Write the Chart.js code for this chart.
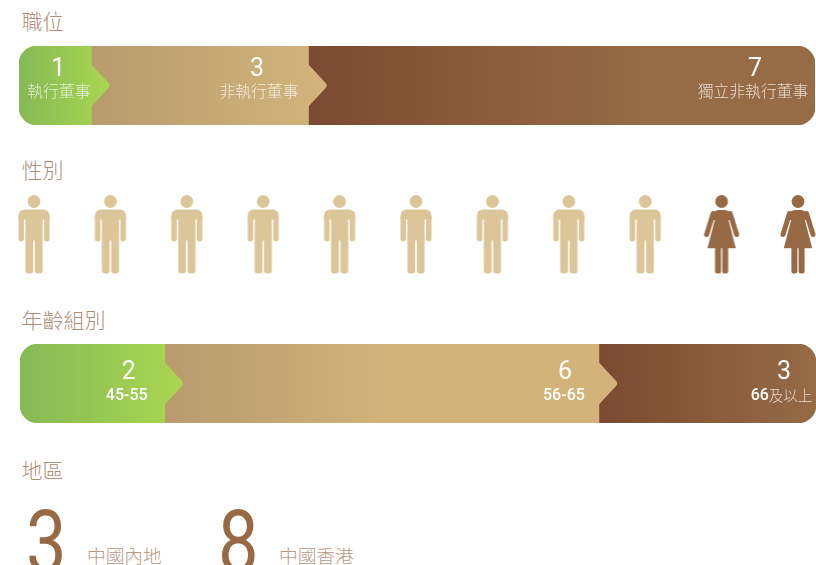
<!DOCTYPE html>
<html lang="zh-Hant">
<head>
    <meta charset="UTF-8">
    <script src="https://cdn.jsdelivr.net/npm/chart.js@4"></script>
    <title>董事會多元化</title>
    <style>
        html, body { margin: 0; height: 565px; overflow: hidden; background: #fff; }
        body { position: relative; font-family: "Noto Sans CJK TC", sans-serif; font-weight: 300; }
        canvas { position: absolute; }
        .title { position: absolute; left: 21.5px; font-size: 21px; line-height: 24px; color: #b08d76; }
        .big { position: absolute; top: 492px; font: 400 88px/100px Roboto, sans-serif; color: #976a45; transform: scaleX(0.82); transform-origin: left top; }
        .sub { position: absolute; top: 543px; font-size: 18.7px; line-height: 24px; color: #b9987f; }
    </style>
</head>
<body>
<div class="title" style="top: 8px;">職位</div>
<canvas id="position" width="796" height="79" style="left: 19px; top: 46px;"></canvas>
<div class="title" style="top: 157px;">性別</div>
<canvas id="gender" width="816" height="89" style="left: 0; top: 190px;"></canvas>
<div class="title" style="top: 307px;">年齡組別</div>
<canvas id="age" width="796" height="79" style="left: 20px; top: 344px;"></canvas>
<div class="title" style="top: 457px;">地區</div>
<div id="region"></div>

<script>
    const positionLabels = ['執行董事', '非執行董事', '獨立非執行董事'];
    const positionValues = [1, 3, 7];
    const ageLabels = ['45-55', '56-65', '66及以上'];
    const ageValues = [2, 6, 3];
    const genderCounts = [9, 2];
    const regionLabels = ['中國內地', '中國香港'];
    const regionValues = [3, 8];

    // green, tan, brown; each segment fades from its left colour to its right colour
    const segmentColors = [
        ['#85b956', '#aad650'],
        ['#b89b6e', '#d2b47b'],
        ['#7b4a31', '#976b46']
    ];
    const MALE_COLOR = '#dcc598';
    const FEMALE_COLOR = '#976a45';
    const TIP_DEPTH = 16.5;
    const TIP_HALF = 21;

    function sumTo(values, n) {
        return values.slice(0, n).reduce((a, b) => a + b, 0);
    }

    // span is how many pixels the fade runs before the colour goes flat
    function segmentFill(c, values, span) {
        const colors = segmentColors[c.datasetIndex];
        const scale = c.chart.scales.x;
        if (!scale || !c.chart.chartArea) return colors[0];
        const from = scale.getPixelForValue(sumTo(values, c.datasetIndex));
        const grad = c.chart.ctx.createLinearGradient(from, 0, from + span, 0);
        grad.addColorStop(0, colors[0]);
        grad.addColorStop(1, colors[1]);
        return grad;
    }

    // the pointed end a segment pushes into its right neighbour
    const arrowTips = {
        id: 'arrowTips',
        afterDatasetDraw(chart, args) {
            const last = chart.data.datasets.length - 1;
            if (args.index === last) return;
            const bar = args.meta.data[0];
            const ctx = chart.ctx;
            ctx.save();
            ctx.fillStyle = bar.options.backgroundColor;
            ctx.beginPath();
            ctx.moveTo(bar.x - 0.5, bar.y - TIP_HALF);
            ctx.lineTo(bar.x, bar.y - TIP_HALF);
            ctx.arcTo(bar.x + TIP_DEPTH + 3, bar.y, bar.x, bar.y + TIP_HALF, 4);
            ctx.lineTo(bar.x, bar.y + TIP_HALF);
            ctx.lineTo(bar.x - 0.5, bar.y + TIP_HALF);
            ctx.closePath();
            ctx.fill();
            ctx.restore();
        }
    };

    // number above, caption below, digits in a heavier latin face
    const segmentText = {
        id: 'segmentText',
        afterDatasetsDraw(chart, args, opts) {
            const ctx = chart.ctx;
            ctx.save();
            ctx.textBaseline = 'middle';
            chart.data.datasets.forEach((ds, i) => {
                const bar = chart.getDatasetMeta(i).data[0];
                const cx = bar.x + opts.offsets[i];
                ctx.textAlign = 'center';
                ctx.fillStyle = '#fff';
                ctx.font = '400 25px Roboto';
                ctx.fillText(ds.data[0], cx, bar.y + opts.numberY);

                const runs = ds.label.split(/(\d[\d-]*)/).filter(Boolean);
                const fontOf = r => /\d/.test(r) ? '500 16px Roboto' : `300 ${opts.captionSize}px "Noto Sans CJK TC"`;
                let total = 0;
                runs.forEach(r => { ctx.font = fontOf(r); total += ctx.measureText(r).width; });
                let x = cx + opts.captionShift[i] - total / 2;
                ctx.textAlign = 'left';
                runs.forEach(r => {
                    ctx.font = fontOf(r);
                    ctx.fillStyle = /\d/.test(r) ? '#fff' : 'rgba(255,255,255,0.75)';
                    ctx.fillText(r, x, bar.y + opts.captionY);
                    x += ctx.measureText(r).width;
                });
            });
            ctx.restore();
        }
    };

    function stackedBar(id, labels, values, spans, textOptions) {
        const last = values.length - 1;
        return new Chart(document.getElementById(id).getContext('2d'), {
            type: 'bar',
            data: {
                labels: [''],
                datasets: values.map((v, i) => ({
                    label: labels[i],
                    data: [v],
                    backgroundColor: c => segmentFill(c, values, spans[i]),
                    borderSkipped: false,
                    borderRadius: {
                        topLeft: i === 0 ? 18 : 0,
                        bottomLeft: i === 0 ? 18 : 0,
                        topRight: i === last ? 18 : 0,
                        bottomRight: i === last ? 18 : 0
                    },
                    barPercentage: 1,
                    categoryPercentage: 1
                }))
            },
            options: {
                indexAxis: 'y',
                responsive: false,
                animation: false,
                events: [],
                layout: { padding: 0 },
                scales: {
                    x: { display: false, stacked: true, min: 0, max: sumTo(values, values.length) },
                    y: { display: false, stacked: true }
                },
                plugins: {
                    legend: { display: false },
                    tooltip: { enabled: false },
                    segmentText: textOptions
                }
            },
            plugins: [arrowTips, segmentText]
        });
    }

    stackedBar('position', positionLabels, positionValues, [91, 235, 340], {
        offsets: [-33, -51.5, -60], captionShift: [0.5, 2, -2],
        numberY: -15.5, captionY: 5.5, captionSize: 15.8
    });
    stackedBar('age', ageLabels, ageValues, [162, 235, 217], {
        offsets: [-36, -34, -32], captionShift: [-2, -1, -2.5],
        numberY: -10.5, captionY: 12, captionSize: 14.5
    });

    // pictogram sprites, origin at the figure's horizontal centre
    function sprite(color, draw) {
        const c = document.createElement('canvas');
        c.width = 38;
        c.height = 89;
        const g = c.getContext('2d');
        g.fillStyle = color;
        g.strokeStyle = color;
        g.translate(19, 4.5);
        g.beginPath();
        g.arc(0, 7, 6.4, 0, Math.PI * 2);
        g.fill();
        draw(g);
        return c;
    }

    function box(g, x, y, w, h, r) {
        g.beginPath();
        g.roundRect(x, y, w, h, r);
        g.fill();
    }

    const maleIcon = sprite(MALE_COLOR, g => {
        box(g, -15.5, 15, 31, 10, [6, 6, 0, 0]);
        box(g, -15.5, 22, 5.4, 25, [0, 0, 2.7, 2.7]);
        box(g, 10.1, 22, 5.4, 25, [0, 0, 2.7, 2.7]);
        box(g, -8.6, 22, 17.2, 24, 0);
        box(g, -8.6, 44, 7.8, 35, [0, 0, 3, 3]);
        box(g, 0.8, 44, 7.8, 35, [0, 0, 3, 3]);
    });

    const femaleIcon = sprite(FEMALE_COLOR, g => {
        box(g, -9, 15.5, 18, 10, [6, 6, 0, 0]);
        g.beginPath();
        g.moveTo(-6.5, 24);
        g.lineTo(6.5, 24);
        g.lineTo(14.2, 53.8);
        g.lineTo(-14.2, 53.8);
        g.closePath();
        g.fill();
        g.lineWidth = 5;
        g.lineCap = 'round';
        g.beginPath();
        g.moveTo(-8.5, 19);
        g.lineTo(-15, 40);
        g.moveTo(8.5, 19);
        g.lineTo(15, 40);
        g.stroke();
        box(g, -6.6, 52, 6, 27, [0, 0, 2.5, 2.5]);
        box(g, 0.6, 52, 6, 27, [0, 0, 2.5, 2.5]);
    });

    const people = [];
    for (let i = 0; i < genderCounts[0] + genderCounts[1]; i++) {
        people.push({ x: i, y: 0 });
    }

    new Chart(document.getElementById('gender').getContext('2d'), {
        type: 'scatter',
        data: {
            datasets: [{
                data: people,
                clip: false,
                pointStyle: c => c.dataIndex < genderCounts[0] ? maleIcon : femaleIcon
            }]
        },
        options: {
            responsive: false,
            animation: false,
            events: [],
            layout: { padding: { left: 34, right: 18 } },
            scales: {
                x: { display: false, min: 0, max: people.length - 1 },
                y: { display: false, min: -1, max: 1 }
            },
            plugins: { legend: { display: false }, tooltip: { enabled: false } }
        }
    });

    const region = document.getElementById('region');
    regionValues.forEach((v, i) => {
        const big = document.createElement('div');
        big.className = 'big';
        big.style.left = (26 + i * 192) + 'px';
        big.textContent = v;
        const sub = document.createElement('div');
        sub.className = 'sub';
        sub.style.left = (87 + i * 192) + 'px';
        sub.textContent = regionLabels[i];
        region.append(big, sub);
    });
</script>
</body>
</html>
